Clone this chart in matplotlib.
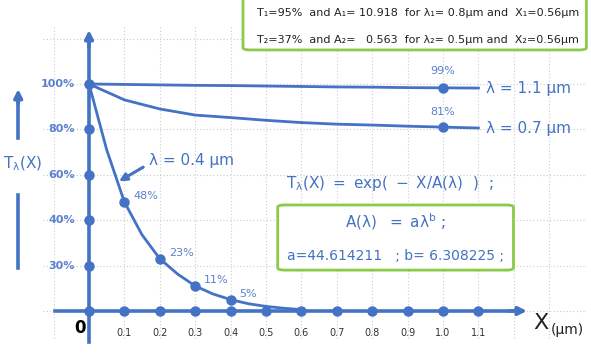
import matplotlib.pyplot as plt
from matplotlib.patches import FancyBboxPatch

# values (transmission in %)
x_ticks = [0.1, 0.2, 0.3, 0.4, 0.5, 0.6, 0.7, 0.8, 0.9, 1.0, 1.1]
x_tick_labels = ['0.1', '0.2', '0.3', '0.4', '0.5', '0.6', '0.7', '0.8', '0.9', '1.0', '1.1']
y_ticks = [20, 40, 60, 80, 100]
y_tick_labels = ['30%', '40%', '60%', '80%', '100%']

x_full = [0, 0.1, 0.2, 0.3, 0.4, 0.5, 0.6, 0.7, 0.8, 0.9, 1.0, 1.1]
t_11 = [100, 99.8, 99.6, 99.4, 99.3, 99.1, 98.9, 98.7, 98.6, 98.4, 98.3, 98.2]
t_07 = [100, 93, 89, 86.3, 85.2, 84, 83, 82.3, 81.9, 81.4, 81, 80.6]

x_04 = [0, 0.05, 0.1, 0.15, 0.2, 0.25, 0.3, 0.35, 0.4, 0.45, 0.5, 0.55, 0.6]
t_04 = [100, 71, 48, 33.5, 23, 16.3, 11, 7.5, 5, 3.2, 2.0, 1.2, 0.6]

mark_x04 = [0.1, 0.2, 0.3, 0.4]
mark_t04 = [48, 23, 11, 5]
mark_lab04 = ['48%', '23%', '11%', '5%']

blue = '#4472C4'
lblue = '#5B80CF'
green = '#8CCB4A'

fig = plt.figure(figsize=(5.91, 3.55), dpi=100)
ax = fig.add_axes([0, 0, 1, 1])
ax.set_xlim(-0.2514, 1.418)
ax.set_ylim(-19.4, 137.0)
ax.axis('off')

# dotted grid
for gx in [-0.1] + x_ticks + [1.2, 1.3]:
    ax.plot([gx, gx], [-12, 126], ls=(0, (1, 2)), color='#cccccc', lw=0.8, zorder=0)
for gy in [0, 20, 40, 60, 80, 100, 120]:
    ax.plot([-0.13, 1.4], [gy, gy], ls=(0, (1, 2)), color='#cccccc', lw=0.8, zorder=0)

# axes with arrows
ax.plot([-0.096, 1.2], [0, 0], color=blue, lw=2.6, zorder=2)
ax.annotate('', xy=(1.245, 0), xytext=(1.18, 0),
            arrowprops=dict(arrowstyle='-|>', color=blue, lw=2.6, mutation_scale=12))
ax.plot([0, 0], [-13.5, 118], color=blue, lw=2.6, zorder=2)
ax.annotate('', xy=(0, 125), xytext=(0, 115),
            arrowprops=dict(arrowstyle='-|>', color=blue, lw=2.6, mutation_scale=12))

# axis dots
ax.plot([0] + x_ticks, [0] * (len(x_ticks) + 1), 'o', color=blue, ms=6.5, zorder=3)
ax.plot([0] * len(y_ticks), y_ticks, 'o', color=blue, ms=6.5, zorder=3)

# curves
ax.plot(x_full, t_11, color=blue, lw=2, zorder=2)
ax.plot(x_full, t_07, color=blue, lw=2, zorder=2)
ax.plot(x_04, t_04, color=blue, lw=2, zorder=2)
ax.plot([1.0], [t_11[10]], 'o', color=blue, ms=6.5, zorder=3)
ax.plot([1.0], [t_07[10]], 'o', color=blue, ms=6.5, zorder=3)
ax.plot(mark_x04, mark_t04, 'o', color=blue, ms=6.5, zorder=3)

# tick labels
for xv, lab in zip(x_ticks, x_tick_labels):
    ax.text(xv, -9.6, lab, ha='center', va='center', fontsize=7, color='#333333')
for yv, lab in zip(y_ticks, y_tick_labels):
    ax.text(-0.04, yv, lab, ha='right', va='center', fontsize=8,
            color=lblue, fontweight='bold')
ax.text(-0.025, -7.3, '0', ha='center', va='center', fontsize=12,
        color='black', fontweight='bold')
ax.text(1.255, -5.5, 'X', ha='left', va='center', fontsize=16, color='#222222')
ax.text(1.305, -8.5, '(μm)', ha='left', va='center', fontsize=10, color='#222222')

# point labels
for xv, tv, lab in zip(mark_x04, mark_t04, mark_lab04):
    ax.text(xv + 0.025, tv + 2.5, lab, ha='left', va='center', fontsize=8, color=lblue)
ax.text(1.0, 105.5, '99%', ha='center', va='center', fontsize=8, color=lblue)
ax.text(1.0, 87.5, '81%', ha='center', va='center', fontsize=8, color=lblue)

ax.text(1.12, t_11[-1], 'λ = 1.1 μm', ha='left', va='center', fontsize=11, color=blue)
ax.text(1.12, t_07[-1], 'λ = 0.7 μm', ha='left', va='center', fontsize=11, color=blue)
ax.text(0.17, 66.5, 'λ = 0.4 μm', ha='left', va='center', fontsize=11, color=blue)
ax.annotate('', xy=(0.078, 56.5), xytext=(0.16, 64),
            arrowprops=dict(arrowstyle='-|>', color=blue, lw=2.2, mutation_scale=11))

# y label with arrow
ax.text(-0.244, 65, r'$\mathregular{T_{\lambda}(X)}$', ha='left', va='center',
        fontsize=11, color=blue)
ax.plot([-0.2, -0.2], [19, 51], color=blue, lw=2.6)
ax.plot([-0.2, -0.2], [76, 92], color=blue, lw=2.6)
ax.annotate('', xy=(-0.2, 99), xytext=(-0.2, 90),
            arrowprops=dict(arrowstyle='-|>', color=blue, lw=2.6, mutation_scale=12))

# formula
ax.text(0.85, 56, r'$\mathregular{T_{\lambda}(X)\ =\ exp(\ -\ X/A(\lambda)\ \ )\ \ ;}$',
        ha='center', va='center', fontsize=11, color=blue)

# lower green box
box2 = FancyBboxPatch((0.533, 18.0), 0.666, 28.7, boxstyle='round,pad=0,rounding_size=0.02',
                      transform=ax.transData, fc='white', ec=green, lw=2, zorder=4,
                      mutation_aspect=50)
ax.add_patch(box2)
ax.text(0.866, 39.5, r'$\mathregular{A(\lambda)\ \ =\ a\lambda^{b}\ ;}$', ha='center', va='center',
        fontsize=11, color=blue, zorder=5)
ax.text(0.866, 24, 'a=44.614211   ; b= 6.308225 ;', ha='center', va='center',
        fontsize=10, color=blue, zorder=5)

# upper green box
box1 = FancyBboxPatch((0.435, 115.0), 0.97, 23.5, boxstyle='round,pad=0,rounding_size=0.02',
                      transform=ax.transData, fc='white', ec=green, lw=2, zorder=4,
                      mutation_aspect=50)
ax.add_patch(box1)
ax.text(0.475, 131.3, 'T₁=95%  and A₁= 10.918  for λ₁= 0.8μm and  X₁=0.56μm',
        ha='left', va='center', fontsize=8, color='#222222', zorder=5)
ax.text(0.475, 119.4, 'T₂=37%  and A₂=   0.563  for λ₂= 0.5μm and  X₂=0.56μm',
        ha='left', va='center', fontsize=8, color='#222222', zorder=5)

fig.savefig('out.png', dpi=100)
